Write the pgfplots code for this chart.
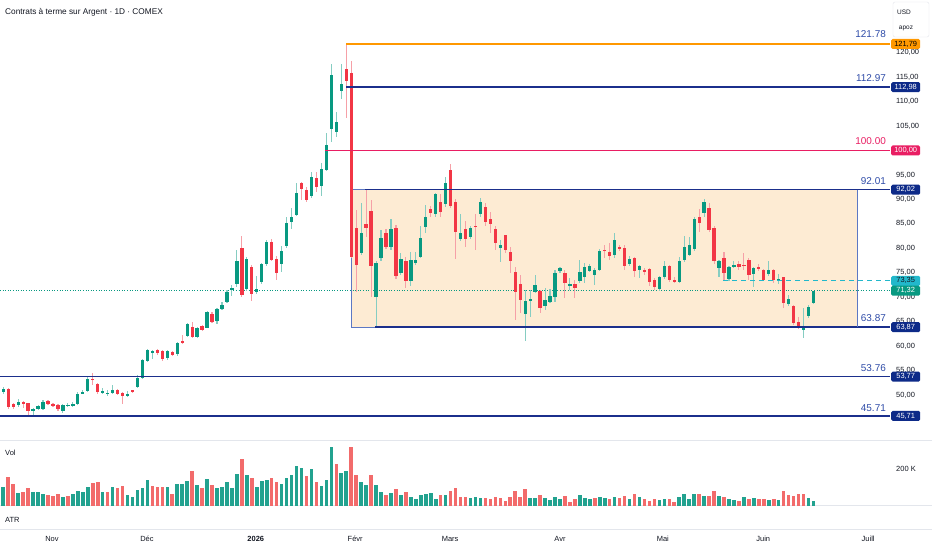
\documentclass[border=0pt]{standalone}
\usepackage{fontspec}
\setmainfont{Liberation Sans}
\usepackage{pgfplots}
\usepackage{pgfplotstable}
\pgfplotsset{compat=1.18}
\definecolor{cgreen}{HTML}{089981}
\definecolor{cred}{HTML}{F23645}
\definecolor{wgreen}{HTML}{86CDC2}
\definecolor{wred}{HTML}{F6A0A7}
\definecolor{vgreen}{HTML}{22A28F}
\definecolor{vred}{HTML}{F26B6B}
\definecolor{navy}{HTML}{1B2F8C}
\definecolor{navytag}{HTML}{0D2A88}
\definecolor{lbl}{HTML}{2E4BA8}
\definecolor{corange}{HTML}{FF9800}
\definecolor{cpink}{HTML}{E91E63}
\definecolor{peach}{HTML}{FDEBD3}
\definecolor{rectedge}{HTML}{5C78C4}
\definecolor{cteal}{HTML}{22B8CB}
\definecolor{sep}{HTML}{E3E6EC}
\definecolor{txt}{HTML}{131722}

\pgfplotstableread{
i o h l c v u
0 50.6 51.7 50.1 51.3 101 1
1 51.3 51.5 47.2 47.5 155 0
2 48.1 48.4 47.1 47.6 117 0
3 47.9 49.1 47.5 48.6 71 1
4 48.6 48.8 47.4 48.3 74 0
5 48.3 48.4 46.0 46.7 96 0
6 46.7 47.4 45.6 47.2 78 1
7 47.1 48.0 46.9 47.8 78 1
8 47.1 49.0 46.9 48.6 63 1
9 48.7 49.0 47.9 48.1 58 0
10 48.2 48.4 47.6 47.9 54 0
11 47.9 48.1 46.8 47.1 63 0
12 46.7 48.1 46.4 47.9 47 1
13 47.8 48.4 47.5 47.9 54 0
14 47.7 48.6 47.5 48.2 67 1
15 48.2 50.6 48.0 50.3 81 1
16 50.3 51.0 50.1 50.7 74 1
17 50.9 53.8 50.6 53.3 103 1
18 53.3 54.4 52.0 53.1 126 0
19 52.2 52.4 50.2 50.6 130 0
20 50.5 51.4 50.1 50.8 74 1
21 50.2 51.0 49.8 50.5 78 0
22 50.5 52.0 50.3 51.0 101 1
23 51.0 51.2 49.9 50.1 98 0
24 50.4 50.6 48.1 49.8 108 0
25 49.8 50.8 49.5 50.3 58 1
26 50.9 51.1 50.4 50.7 51 1
27 51.6 54.0 51.4 53.5 85 1
28 53.5 57.4 53.3 57.2 96 1
29 57.0 59.4 56.8 59.2 143 1
30 58.6 59.3 57.3 58.9 108 0
31 59.2 59.5 58.2 58.5 105 0
32 58.9 59.1 57.0 57.3 101 0
33 57.5 59.3 57.2 59.0 103 1
34 58.8 59.0 57.9 58.1 63 0
35 58.3 60.9 58.0 60.7 119 1
36 61.0 62.2 60.4 60.7 119 1
37 62.1 64.8 61.8 64.6 134 1
38 63.9 65.0 61.6 61.9 188 0
39 61.9 64.0 61.6 63.6 112 1
40 64.1 64.3 63.0 63.3 98 0
41 63.8 67.2 63.6 67.0 146 1
42 66.5 67.0 64.7 64.9 112 0
43 65.1 67.7 64.5 67.5 98 1
44 67.5 69.0 67.3 68.5 101 1
45 69.0 71.5 68.8 71.1 130 1
46 71.6 72.4 70.2 71.9 96 1
47 72.6 79.7 72.0 77.4 175 1
48 80.0 82.6 70.0 70.4 252 0
49 71.6 78.2 71.2 77.9 168 1
50 76.2 76.5 69.3 70.6 150 0
51 71.1 74.3 70.6 71.6 103 1
52 73.1 77.0 72.6 76.7 135 1
53 76.7 81.7 76.4 81.3 141 1
54 81.3 81.8 77.4 77.7 153 0
55 77.9 78.5 73.6 75.0 130 0
56 76.7 80.4 75.1 79.4 121 1
57 80.5 86.3 80.0 85.2 150 1
58 85.4 88.2 84.0 86.5 166 1
59 86.8 93.4 86.6 91.3 215 1
60 93.3 93.6 89.9 92.2 206 1
61 92.0 92.6 89.5 89.9 161 0
62 90.6 95.6 90.2 94.6 198 1
63 94.4 95.6 91.5 92.6 128 0
64 92.7 97.4 90.6 96.3 108 1
65 96.1 103.5 95.8 101.1 139 1
66 104.4 117.7 101.7 115.4 317 1
67 103.8 107.9 102.8 105.9 227 0
68 112.2 117.6 110.5 113.6 177 1
69 116.6 121.78 106.6 114.3 191 1
70 115.9 118.4 78.0 78.3 317 0
71 84.1 87.8 71.1 76.6 170 0
72 79.0 89.2 78.6 83.2 128 1
73 84.9 91.9 82.4 84.2 112 1
74 87.6 89.9 70.1 76.4 166 0
75 70.1 77.5 63.87 76.9 112 1
76 78.0 83.7 77.5 82.2 76 1
77 83.2 84.0 79.8 80.2 60 0
78 80.3 86.0 79.6 83.9 69 1
79 84.2 84.8 73.8 74.3 92 0
80 75.0 79.0 74.5 77.9 58 1
81 77.4 78.3 71.8 73.4 74 0
82 73.4 79.3 72.2 77.6 47 1
83 76.9 79.3 76.5 77.6 40 1
84 78.3 84.6 78.0 82.2 58 1
85 84.4 88.9 83.1 86.5 65 1
86 88.0 88.6 86.5 87.3 71 1
87 87.0 91.4 86.5 91.0 36 1
88 89.5 91.2 86.5 87.5 58 0
89 89.0 94.6 88.4 93.3 58 1
90 96.0 97.2 88.3 88.6 80 0
91 89.5 90.0 77.9 83.4 99 0
92 82.0 87.0 81.4 83.2 47 0
93 83.9 85.6 80.3 82.0 51 0
94 82.4 84.6 81.8 84.2 45 1
95 84.6 87.1 79.6 84.4 47 1
96 87.0 90.2 86.5 89.4 44 1
97 88.4 89.2 84.6 85.4 44 0
98 86.0 87.5 83.2 85.0 36 0
99 83.9 84.6 79.6 81.1 51 0
100 80.0 81.7 77.1 80.7 44 0
101 82.7 82.8 79.0 79.6 27 0
102 79.3 80.3 74.9 77.5 51 0
103 75.2 76.2 65.3 71.1 81 0
104 72.7 74.5 66.7 69.4 51 0
105 66.6 71.5 61.1 69.3 90 0
106 69.4 71.5 66.0 69.5 45 1
107 71.1 74.5 70.8 72.5 45 1
108 71.3 71.5 66.7 67.7 58 0
109 68.1 71.8 67.4 69.5 44 1
110 69.1 71.6 68.8 70.3 33 1
111 70.1 75.6 69.1 74.9 47 1
112 75.4 76.2 75.0 76.0 36 1
113 74.9 75.6 69.8 72.8 54 0
114 72.5 74.0 71.5 72.6 20 0
115 72.6 73.5 69.8 71.8 38 0
116 73.4 77.6 72.9 75.2 60 1
117 74.2 76.9 72.8 76.2 44 1
118 75.4 76.8 75.2 76.4 36 1
119 74.5 75.9 72.5 75.6 44 0
120 75.6 79.8 75.4 79.5 51 1
121 79.7 80.7 78.1 79.5 44 1
122 79.3 81.0 77.6 78.5 36 0
123 78.6 83.1 78.0 81.7 51 1
124 80.2 80.7 79.5 79.9 44 0
125 80.0 80.7 75.5 76.3 54 0
126 76.8 78.5 76.3 77.8 36 1
127 78.0 78.2 74.2 75.3 67 0
128 75.5 76.6 73.9 76.4 47 1
129 75.6 75.9 74.6 75.3 38 0
130 75.7 75.9 72.2 73.2 27 0
131 73.6 73.9 71.5 72.0 38 0
132 71.6 74.3 71.3 74.1 31 1
133 74.1 77.5 73.8 76.3 36 1
134 76.4 76.6 73.2 73.6 38 0
135 73.6 74.2 72.9 73.2 24 0
136 73.2 78.3 72.9 77.3 51 1
137 77.6 82.5 77.2 80.2 63 1
138 78.7 82.3 78.4 80.7 38 1
139 79.8 86.5 79.5 86.0 67 1
140 86.5 88.0 83.4 85.1 65 0
141 87.2 90.0 86.5 89.4 54 1
142 88.2 89.2 83.3 83.8 54 0
143 84.1 84.5 76.8 77.3 81 0
144 76.0 77.6 74.2 77.3 54 1
145 78.0 79.3 73.6 75.0 47 0
146 73.7 76.4 73.4 76.2 38 1
147 76.2 77.3 75.9 76.6 34 1
148 76.8 77.3 75.6 76.1 27 0
149 76.6 79.1 75.6 76.4 49 1
150 77.6 78.0 73.6 74.6 40 0
151 74.8 76.1 72.0 75.9 44 1
152 76.1 76.8 75.4 75.7 36 0
153 75.5 75.7 73.3 73.6 36 0
154 74.7 77.3 74.3 75.5 31 1
155 75.5 75.7 73.0 73.6 36 0
156 73.5 74.8 72.6 73.8 33 1
157 74.1 74.2 67.8 68.8 81 0
158 68.6 70.4 68.2 69.6 58 0
159 68.2 68.4 64.4 64.7 54 0
160 65.0 65.9 63.5 64.0 67 0
161 63.3 67.8 61.6 64.0 67 0
162 66.1 68.4 65.8 68.0 44 1
163 68.8 71.3 68.7 71.32 27 1
}\candles

\pgfplotsset{
  tvbase/.style={scale only axis, width=890bp, xmin=-0.66, xmax=178.4,
    axis line style={draw=none}, major tick length=0pt, xtick=\empty,
    yticklabel pos=right, clip=false,
    yticklabel style={font=\fontsize{7.5}{9}\selectfont, text=txt, anchor=west, inner sep=0pt, xshift=6bp}},
  candle/.style 2 args={draw=none, mark=none, forget plot,
    error bars/y dir=both, error bars/y explicit, error bars/error mark=none,
    error bars/error bar style={line width=#1, draw=#2}},
}
\newcommand{\pricetag}[4]{\node[anchor=west, fill=#3, text=#4, rounded corners=1.5bp, minimum width=29bp, minimum height=10bp, inner sep=0pt, font=\fontsize{7.5}{8}\selectfont] at (#1) {#2};}

\begin{document}
\begin{tikzpicture}[x=1bp,y=1bp]
\fill[white] (0,0) rectangle (932,550);
\useasboundingbox (0,0) rectangle (932,550);
% pane separators
\draw[sep, line width=1bp] (0,109) -- (932,109);
\draw[sep, line width=1bp] (0,44) -- (932,44);
\draw[sep, line width=1bp] (0,20) -- (932,20);

\begin{axis}[tvbase, at={(0bp,550bp)}, anchor=north west, height=441bp,
  ymin=40.59, ymax=130.78, ytick={50,55,...,95,105,110,...,120},
  yticklabel={\pgfmathprintnumber[fixed,fixed zerofill,precision=2,use comma,1000 sep={},assume math mode=true]{\tick}}]
% zone rectangle
\addplot[fill=peach, draw=rectedge, line width=0.8bp] coordinates {(69.96,92.01) (171.8,92.01) (171.8,63.87) (69.96,63.87)} -- cycle;
% last price dotted line
\addplot[cgreen, dotted, line width=0.6bp] coordinates {(-0.66,71.32) (178.4,71.32)};
% wicks
\addplot[candle={1.1bp}{wgreen}, restrict expr to domain={\thisrow{c}-\thisrow{o}}{0:1000}]
  table[x=i, y expr={(\thisrow{h}+\thisrow{l})/2}, y error expr={(\thisrow{h}-\thisrow{l})/2}]{\candles};
\addplot[candle={1.1bp}{wred}, restrict expr to domain={\thisrow{o}-\thisrow{c}}{0.0001:1000}]
  table[x=i, y expr={(\thisrow{h}+\thisrow{l})/2}, y error expr={(\thisrow{h}-\thisrow{l})/2}]{\candles};
% bodies
\addplot[candle={3.3bp}{cgreen}, restrict expr to domain={\thisrow{c}-\thisrow{o}}{0:1000}]
  table[x=i, y expr={(\thisrow{o}+\thisrow{c})/2}, y error expr={max(abs(\thisrow{c}-\thisrow{o})/2,0.13)}]{\candles};
\addplot[candle={3.3bp}{cred}, restrict expr to domain={\thisrow{o}-\thisrow{c}}{0.0001:1000}]
  table[x=i, y expr={(\thisrow{o}+\thisrow{c})/2}, y error expr={max(abs(\thisrow{c}-\thisrow{o})/2,0.13)}]{\candles};
% level lines
\addplot[corange, line width=1.3bp] coordinates {(69,121.78) (178.4,121.78)};
\addplot[navy, line width=1.6bp] coordinates {(69,112.97) (178.4,112.97)};
\addplot[cpink, line width=1.6bp] coordinates {(64.7,100) (178.4,100)};
\addplot[navy, line width=1.6bp] coordinates {(72.8,92.01) (178.4,92.01)};
\addplot[navy, line width=1.6bp] coordinates {(74.8,63.87) (178.4,63.87)};
\addplot[rectedge, line width=1bp] coordinates {(171.8,92.01) (171.8,63.87)};
\addplot[navy, line width=1.3bp] coordinates {(-0.66,53.76) (178.4,53.76)};
\addplot[navy, line width=1.3bp] coordinates {(-0.66,45.71) (178.4,45.71)};
\addplot[cteal, line width=1.2bp, dash pattern=on 5bp off 4bp] coordinates {(144.8,73.35) (178.4,73.35)};
% line labels
\begin{scope}[every node/.style={anchor=base east, font=\fontsize{10}{12}\selectfont, text=lbl, inner sep=0pt}]
\node at (axis cs:177.6,121.78) [yshift=6bp] {121.78};
\node at (axis cs:177.6,112.97) [yshift=5.5bp] {112.97};
\node[text=cpink] at (axis cs:177.6,100) [yshift=5.5bp] {100.00};
\node at (axis cs:177.6,92.01) [yshift=5.5bp] {92.01};
\node at (axis cs:177.6,63.87) [yshift=5.5bp] {63.87};
\node at (axis cs:177.6,53.76) [yshift=5.5bp] {53.76};
\node at (axis cs:177.6,45.71) [yshift=4.5bp] {45.71};
\end{scope}
\coordinate (t1) at (axis cs:178.6,121.78);
\coordinate (t2) at (axis cs:178.6,112.97);
\coordinate (t3) at (axis cs:178.6,100);
\coordinate (t4) at (axis cs:178.6,92.01);
\coordinate (t5) at (axis cs:178.6,73.35);
\coordinate (t6) at (axis cs:178.6,71.32);
\coordinate (t7) at (axis cs:178.6,63.87);
\coordinate (t8) at (axis cs:178.6,53.76);
\coordinate (t9) at (axis cs:178.6,45.71);
\end{axis}

% volume pane
\begin{axis}[tvbase, at={(0bp,44bp)}, anchor=south west, height=65bp,
  ymin=0, ymax=351, ytick={200}, yticklabels={200 K}]
\addplot[ycomb, mark=none, line width=3.6bp, draw=vgreen, restrict expr to domain={\thisrow{u}}{0.5:2}] table[x=i, y=v]{\candles};
\addplot[ycomb, mark=none, line width=3.6bp, draw=vred, restrict expr to domain={\thisrow{u}}{-1:0.5}] table[x=i, y=v]{\candles};
\end{axis}

% ATR pane with time axis
\begin{axis}[tvbase, at={(0bp,20bp)}, anchor=south west, height=24bp,
  ymin=0, ymax=1, ytick=\empty,
  xtick={9.8,28.9,50.8,70.8,89.9,112.0,132.7,152.9,174.0},
  xticklabels={Nov,Déc,\textbf{2026},Févr,Mars,Avr,Mai,Juin,Juill},
  xticklabel style={font=\fontsize{7.5}{9}\selectfont, text=txt, anchor=base, yshift=-12bp}]
\end{axis}

% price tags
\pricetag{t1}{121,79}{corange}{black}
\pricetag{t2}{112,98}{navytag}{white}
\pricetag{t3}{100,00}{cpink}{white}
\pricetag{t4}{92,02}{navytag}{white}
\pricetag{t5}{73,35}{cteal}{txt}
\pricetag{t6}{71,32}{cgreen}{white}
\pricetag{t7}{63,87}{navytag}{white}
\pricetag{t8}{53,77}{navytag}{white}
\pricetag{t9}{45,71}{navytag}{white}

% texts
\node[anchor=west, font=\fontsize{8.3}{10}\selectfont, text=txt, inner sep=0pt] at (5,538) {Contrats à terme sur Argent · 1D · COMEX};
\node[anchor=west, font=\fontsize{7.5}{9}\selectfont, text=txt, inner sep=0pt] at (5,97) {Vol};
\node[anchor=west, font=\fontsize{7.5}{9}\selectfont, text=txt, inner sep=0pt] at (5,30) {ATR};
\draw[sep, fill=white, rounded corners=2bp] (893,513) rectangle (929,548);
\node[font=\fontsize{6.5}{8}\selectfont, text=txt] at (904,538) {USD};
\node[font=\fontsize{6.5}{8}\selectfont, text=txt] at (906,522) {apoz};
\end{tikzpicture}
\end{document}
